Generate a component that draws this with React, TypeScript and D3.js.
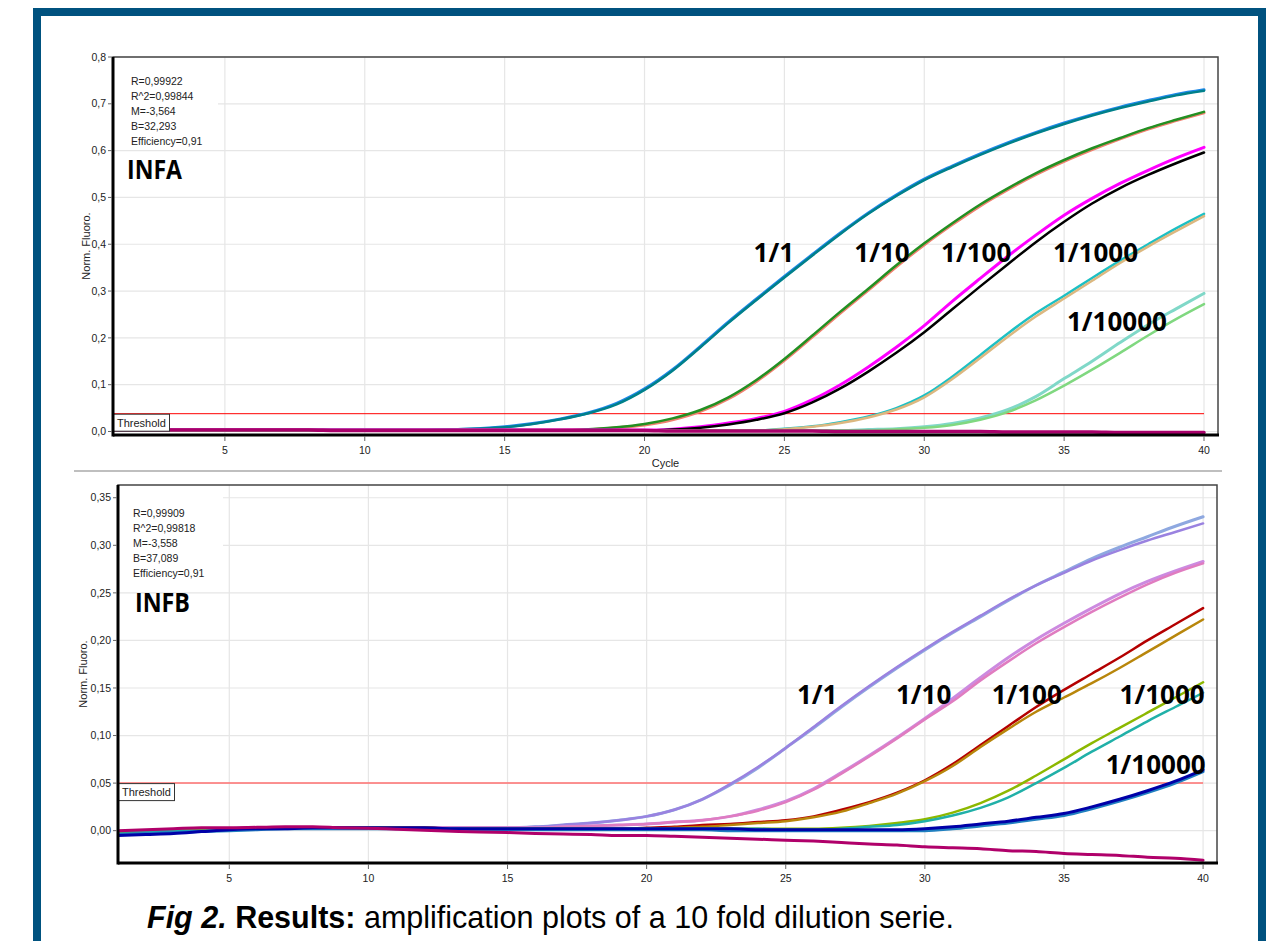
import React from 'react';
import * as d3 from 'd3';

const cycles = [1, 2, 3, 4, 5, 6, 7, 8, 9, 10, 11, 12, 13, 14, 15, 16, 17, 18, 19, 20,
  21, 22, 23, 24, 25, 26, 27, 28, 29, 30, 31, 32, 33, 34, 35, 36, 37, 38, 39, 40];
const xTicks = [5, 10, 15, 20, 25, 30, 35, 40];
const dilutions = ['1/1', '1/10', '1/100', '1/1000', '1/10000'];

// INFA
const infaBlue = [.003, .003, .003, .003, .003, .003, .003, .003, .003, .003, .003, .003,
  .004, .006, .010, .017, .027, .040, .060, .091,
  .132, .182, .234, .283, .331, .378, .424, .467, .505, .539,
  .567, .593, .617, .639, .659, .677, .693, .707, .720, .730];
const infaTeal = [.003, .003, .003, .003, .003, .003, .003, .003, .003, .003, .003, .003,
  .004, .006, .009, .016, .026, .039, .058, .089,
  .130, .180, .232, .281, .329, .376, .422, .465, .503, .537,
  .565, .591, .615, .637, .657, .675, .691, .705, .718, .728];
const infaSalmon = [.003, .003, .003, .003, .003, .003, .003, .003, .003, .003, .003, .003, .003, .003, .003, .003, .003,
  .004, .008, .014,
  .025, .043, .070, .107, .152, .202, .253, .302, .352, .399,
  .442, .482, .517, .549, .577, .602, .625, .646, .664, .681];
const infaGreen = [.003, .003, .003, .003, .003, .003, .003, .003, .003, .003, .003, .003, .003, .003, .003, .003, .003,
  .005, .009, .016,
  .028, .046, .073, .110, .155, .205, .256, .305, .355, .402,
  .445, .485, .520, .552, .580, .605, .627, .648, .666, .683];
const infaBlack = [.002, .002, .002, .002, .002, .002, .002, .002, .002, .002,
  .002, .002, .002, .002, .002, .002, .002, .002, .002, .002,
  .004, .008, .015, .025, .039, .062, .092, .128, .168, .212,
  .261, .310, .358, .405, .448, .487, .520, .548, .573, .596];
const infaMagenta = [.003, .003, .003, .003, .003, .003, .003, .003, .003, .003,
  .003, .003, .003, .003, .003, .003, .003, .003, .003, .003,
  .005, .010, .018, .028, .043, .068, .100, .138, .180, .226,
  .278, .327, .375, .420, .462, .498, .530, .558, .584, .607];
const infaTan = [.002, .002, .002, .002, .002, .002, .002, .002, .002, .002, .002, .002,
  .002, .002, .002, .002, .002, .002, .002, .002, .002, .002, .002, .002,
  .005, .010, .018, .030, .047, .073,
  .112, .157, .203, .246, .284, .322, .360, .395, .428, .460];
const infaCyan = [.002, .002, .002, .002, .002, .002, .002, .002, .002, .002, .002, .002,
  .002, .002, .002, .002, .002, .002, .002, .002, .002, .002, .002, .002,
  .006, .011, .020, .032, .050, .077,
  .117, .163, .210, .253, .290, .328, .365, .400, .434, .465];
const infaLightGreen = [.002, .002, .002, .002, .002, .002, .002, .002, .002, .002, .002, .002, .002, .002,
  .002, .002, .002, .002, .002, .002, .002, .002, .002, .002, .002, .002, .002, .002,
  .005, .008,
  .014, .025, .042, .067, .098, .132, .168, .205, .240, .272];
const infaAqua = [.002, .002, .002, .002, .002, .002, .002, .002, .002, .002, .002, .002, .002, .002,
  .002, .002, .002, .002, .002, .002, .002, .002, .002, .002, .002, .002, .002,
  .004, .006, .010,
  .017, .029, .047, .075, .113, .150, .190, .228, .262, .295];
const infaNeg = [.003, .003, .003, .003, .003, .003, .003, .003,
  .002, .002, .002, .002, .002, .002, .002, .002, .002, .002, .002, .002,
  .001, .001, .001, .001, .001, .001, 0, 0, 0, 0, 0, 0,
  -.001, -.001, -.001, -.001, -.002, -.002, -.002, -.002];

// INFB
const infbBlue = [-.002, -.001, .000, .001, .002, .003, .003, .003, .003, .003,
  .003, .003, .003, .003, .003, .004, .006, .008, .011, .015,
  .022, .033, .048, .066, .087, .108, .130, .151, .171, .190,
  .208, .225, .242, .258, .272, .286, .298, .309, .320, .330];
const infbPurple = [-.002, -.001, .000, .001, .002, .003, .003, .003, .003, .003,
  .003, .003, .003, .003, .003, .004, .006, .008, .011, .015,
  .022, .033, .049, .067, .087, .109, .131, .152, .172, .191,
  .209, .226, .243, .258, .271, .284, .295, .305, .314, .323];
const infbOrchid = [-.002, -.001, .000, .001, .002, .003, .003, .003, .003, .003,
  .003, .003, .003, .003, .003, .003, .004, .005, .006, .007,
  .009, .011, .015, .022, .031, .044, .061, .079, .098, .118,
  .139, .161, .182, .201, .218, .234, .249, .262, .273, .283];
const infbPink = [-.002, -.001, .000, .001, .002, .003, .003, .003, .003, .003,
  .003, .003, .003, .003, .003, .003, .004, .005, .006, .007,
  .009, .011, .015, .021, .030, .043, .060, .078, .097, .117,
  .136, .158, .178, .197, .214, .230, .245, .259, .271, .281];
const infbRed = [-.002, -.001, .000, .001, .002, .003, .003, .003, .003, .003,
  .003, .003, .002, .002, .002, .002, .002, .002, .002, .003,
  .004, .006, .007, .009, .011, .015, .022, .030, .040, .053,
  .070, .090, .110, .130, .148, .165, .182, .200, .217, .234];
const infbGold = [-.002, -.001, .000, .001, .002, .003, .003, .003, .003, .003,
  .003, .003, .002, .002, .002, .002, .002, .002, .002, .002,
  .003, .004, .006, .008, .010, .014, .020, .029, .039, .052,
  .068, .088, .107, .125, .140, .155, .171, .188, .205, .222];
const infbYellowGreen = [-.001, .000, .000, .001, .002, .002, .003, .003, .003, .003,
  .003, .002, .002, .002, .002, .002, .002, .002, .002, .002,
  .002, .002, .002, .002, .002, .002, .003, .005, .008, .012,
  .019, .029, .042, .058, .075, .092, .108, .124, .140, .156];
const infbSeaGreen = [-.001, -.001, .000, .000, .001, .002, .002, .003, .003, .003,
  .002, .002, .002, .002, .002, .002, .002, .002, .002, .002,
  .002, .002, .002, .002, .001, .001, .002, .004, .006, .010,
  .016, .024, .035, .050, .066, .083, .099, .115, .130, .145];
const infbSteel = [-.004, -.003, -.002, -.001, .000, .001, .002, .002, .002, .002,
  .002, .002, .002, .001, .001, .001, .001, .001, .001, .001,
  .001, .001, .000, .000, .000, .000, .000, .000, .000, .000,
  .002, .005, .008, .012, .016, .023, .031, .040, .050, .062];
const infbNavy = [-.005, -.004, -.003, -.001, .001, .002, .002, .003, .003, .003,
  .003, .003, .002, .002, .002, .002, .002, .002, .002, .002,
  .002, .002, .002, .001, .001, .001, .001, .001, .001, .002,
  .004, .007, .010, .014, .018, .025, .033, .042, .052, .064];
const infbNeg = [.000, .001, .002, .003, .003, .0035, .004, .004, .003, .0025,
  .0015, .0005, -.0005, -.0015, -.002, -.003, -.0035, -.004, -.005, -.005,
  -.006, -.007, -.008, -.009, -.010, -.011, -.0125, -.014, -.015, -.017,
  -.018, -.019, -.021, -.022, -.024, -.025, -.026, -.028, -.029, -.031];

const infaTicks = [0, 0.1, 0.2, 0.3, 0.4, 0.5, 0.6, 0.7, 0.8];
const infbTicks = [0, 0.05, 0.1, 0.15, 0.2, 0.25, 0.3, 0.35];
const infaStats = ['R=0,99922', 'R^2=0,99844', 'M=-3,564', 'B=32,293', 'Efficiency=0,91'];
const infbStats = ['R=0,99909', 'R^2=0,99818', 'M=-3,558', 'B=37,089', 'Efficiency=0,91'];
// label anchors (cycle, value)
const infaLabelCycle = [23.9, 27.5, 30.6, 34.6, 35.1];
const infaLabelValue = [0.381, 0.381, 0.381, 0.381, 0.234];
const infbLabelCycle = [25.4, 28.96, 32.4, 37.0, 36.5];
const infbLabelValue = [0.143, 0.143, 0.143, 0.143, 0.069];

type Series = { values: number[]; color: string; width: number };

type PanelProps = {
  left: number; right: number; top: number; bottom: number;
  yDomain: [number, number]; yTicks: number[]; fmt: string;
  series: Series[]; threshold: number; thColor: string; thWidth: number;
  stats: string[]; statsDx: number; statsDy: number;
  name: string; nameDx: number; nameDy: number;
  labelCycle: number[]; labelValue: number[];
  titleX: number; xTitle?: string;
};

const sans = 'Liberation Sans, Arial, sans-serif';

function Panel(p: PanelProps) {
  const x = d3.scaleLinear().domain([1, 40.5]).range([p.left, p.right]);
  const y = d3.scaleLinear().domain(p.yDomain).range([p.bottom, p.top]);
  const fmt = (v: number) => d3.format(p.fmt)(v).replace('.', ',');
  const line = d3.line<number>()
    .x((_, i) => x(cycles[i]))
    .y(v => y(v))
    .curve(d3.curveMonotoneX);
  const ty = y(p.threshold);
  return (
    <g>
      <defs>
        <clipPath id={`clip-${p.name}`}>
          <rect x={p.left} y={p.top} width={p.right - p.left} height={p.bottom - p.top} />
        </clipPath>
      </defs>
      {/* grid */}
      {p.yTicks.map(t => (
        <line key={'gy' + t} x1={p.left} x2={p.right} y1={y(t)} y2={y(t)} stroke="#e6e6e6" strokeWidth={1.2} />
      ))}
      {xTicks.map(t => (
        <line key={'gx' + t} x1={x(t)} x2={x(t)} y1={p.top} y2={p.bottom} stroke="#e6e6e6" strokeWidth={1.2} />
      ))}
      {/* stats box */}
      <rect x={p.left + 1} y={p.top + 5} width={104} height={86} fill="#fff" />
      {/* threshold */}
      <line x1={p.left} x2={x(40)} y1={ty} y2={ty} stroke={p.thColor} strokeWidth={p.thWidth} />
      {/* curves */}
      <g clipPath={`url(#clip-${p.name})`}>
        {p.series.map((s, i) => (
          <path key={i} d={line(s.values) || ''} fill="none" stroke={s.color} strokeWidth={s.width}
            strokeLinejoin="round" strokeLinecap="round" />
        ))}
      </g>
      {/* threshold box */}
      <rect x={p.left + 0.5} y={ty + 0.5} width={56} height={17} fill="#fff" stroke="#333" strokeWidth={1} />
      <text x={p.left + 4} y={ty + 13} fontFamily={sans} fontSize={11} fill="#222">Threshold</text>
      {/* stats text */}
      {p.stats.map((s, i) => (
        <text key={s} x={p.left + p.statsDx} y={p.top + p.statsDy + i * 15} fontFamily={sans} fontSize={10.5} fill="#222">{s}</text>
      ))}
      <text x={p.left + p.nameDx} y={p.top + p.nameDy} fontFamily="Open Sans, sans-serif" fontWeight={700}
        fontSize={26} textLength={55} lengthAdjust="spacingAndGlyphs" fill="#000">{p.name}</text>
      {/* dilution labels */}
      {dilutions.map((d, i) => (
        <text key={d} x={x(p.labelCycle[i])} y={y(p.labelValue[i])} dy="0.36em" fontFamily="Open Sans, sans-serif"
          fontWeight={700} fontSize={26} fill="#000">{d}</text>
      ))}
      {/* frame */}
      <rect x={p.left} y={p.top} width={p.right - p.left} height={p.bottom - p.top} fill="none" stroke="#444" strokeWidth={1.5} />
      <line x1={p.left} x2={p.left} y1={p.top} y2={p.bottom + 1.5} stroke="#000" strokeWidth={3} />
      <line x1={p.left} x2={p.right + 1} y1={p.bottom} y2={p.bottom} stroke="#000" strokeWidth={3} />
      {/* y axis */}
      {p.yTicks.map(t => (
        <g key={'yt' + t}>
          <line x1={p.left - 5} x2={p.left - 1} y1={y(t)} y2={y(t)} stroke="#666" />
          <text x={p.left - 7} y={y(t)} dy="0.35em" textAnchor="end" fontFamily={sans} fontSize={10.5} fill="#222">{fmt(t)}</text>
        </g>
      ))}
      {/* x axis */}
      {xTicks.map(t => (
        <g key={'xt' + t}>
          <line x1={x(t)} x2={x(t)} y1={p.bottom + 1} y2={p.bottom + 6} stroke="#666" />
          <text x={x(t)} y={p.bottom + 19} textAnchor="middle" fontFamily={sans} fontSize={10.5} fill="#222">{t}</text>
        </g>
      ))}
      <text transform={`translate(${p.titleX},${(p.top + p.bottom) / 2}) rotate(-90)`} textAnchor="middle"
        dy="0.35em" fontFamily={sans} fontSize={11} fill="#222">Norm. Fluoro.</text>
      {p.xTitle && (
        <text x={(p.left + p.right) / 2} y={p.bottom + 32} textAnchor="middle" fontFamily={sans} fontSize={11} fill="#222">{p.xTitle}</text>
      )}
    </g>
  );
}

export default function App() {
  const infaSeries: Series[] = [
    { values: infaBlue, color: '#1e88e8', width: 3 },
    { values: infaTeal, color: '#00808a', width: 2.5 },
    { values: infaSalmon, color: '#f08070', width: 3 },
    { values: infaGreen, color: '#229022', width: 2.5 },
    { values: infaMagenta, color: '#ff00ff', width: 3 },
    { values: infaBlack, color: '#000000', width: 2.5 },
    { values: infaCyan, color: '#1cc0c4', width: 2.5 },
    { values: infaTan, color: '#dcb880', width: 2.5 },
    { values: infaAqua, color: '#80d8c8', width: 3 },
    { values: infaLightGreen, color: '#80d880', width: 2.5 },
    { values: infaNeg, color: '#a8006a', width: 3.5 },
  ];
  const infbSeries: Series[] = [
    { values: infbBlue, color: '#8ea8e0', width: 3 },
    { values: infbPurple, color: '#9a82e0', width: 2.5 },
    { values: infbOrchid, color: '#cc8ae0', width: 3 },
    { values: infbPink, color: '#e07cc0', width: 2.5 },
    { values: infbRed, color: '#b40000', width: 2.5 },
    { values: infbGold, color: '#b8860b', width: 2.5 },
    { values: infbYellowGreen, color: '#8cb800', width: 2.5 },
    { values: infbSeaGreen, color: '#20b0a8', width: 2.5 },
    { values: infbSteel, color: '#2080c0', width: 3 },
    { values: infbNavy, color: '#0000a8', width: 3 },
    { values: infbNeg, color: '#b0006a', width: 3 },
  ];
  return (
    <svg width={1275} height={941} style={{ position: 'absolute', left: 0, top: 0, background: '#fff' }}>
      <rect x={37} y={12} width={1225} height={960} fill="#fff" stroke="#00527f" strokeWidth={8} />
      <Panel left={113} right={1218} top={57} bottom={435} yDomain={[-0.0075, 0.8]} yTicks={infaTicks} fmt=".1f"
        series={infaSeries} threshold={0.038} thColor="#ff0000" thWidth={1}
        stats={infaStats} statsDx={18} statsDy={28} name="INFA" nameDx={14} nameDy={122}
        labelCycle={infaLabelCycle} labelValue={infaLabelValue} titleX={86} xTitle="Cycle" />
      <line x1={74} x2={1222} y1={471} y2={471} stroke="#aaa" strokeWidth={1.5} />
      <Panel left={118} right={1217} top={485} bottom={863} yDomain={[-0.034, 0.3634]} yTicks={infbTicks} fmt=".2f"
        series={infbSeries} threshold={0.05} thColor="#ff7070" thWidth={1.5}
        stats={infbStats} statsDx={15} statsDy={32} name="INFB" nameDx={17} nameDy={127}
        labelCycle={infbLabelCycle} labelValue={infbLabelValue} titleX={83} />
      <text x={147} y={928} fontFamily={sans} fontSize={30.5} fill="#000">
        <tspan fontWeight={700} fontStyle="italic">Fig 2.</tspan>
        <tspan fontWeight={700}> Results:</tspan>
        <tspan> amplification plots of a 10 fold dilution serie.</tspan>
      </text>
    </svg>
  );
}
